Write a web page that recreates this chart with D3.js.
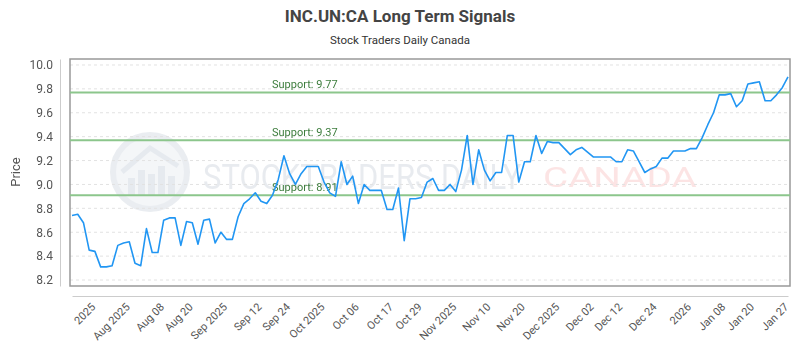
<!DOCTYPE html>
<html>
<head>
<meta charset="utf-8">
<script src="https://cdn.jsdelivr.net/npm/d3@7"></script>
<style>
  body { margin: 0; background: #fff; }
  text { font-family: Roboto, "Noto Sans", sans-serif; }
</style>
</head>
<body>
<div id="chart"></div>
<script>
// daily closes
var prices = [8.74,8.75,8.68,8.45,8.44,8.31,8.31,8.32,8.49,8.51,8.52,8.34,8.32,8.63,8.43,8.43,8.70,8.72,8.72,8.49,
  8.69,8.68,8.50,8.70,8.71,8.51,8.60,8.54,8.54,8.73,8.84,8.88,8.93,8.86,
  8.84,8.91,9.04,9.24,9.09,9.00,9.09,9.15,9.15,9.15,9.02,8.93,8.90,9.19,9.00,9.07,8.84,9.00,8.95,8.95,
  8.95,8.79,8.79,8.97,8.53,8.88,8.88,8.89,9.02,9.05,8.95,8.95,9.00,
  8.94,9.12,9.41,9.00,9.29,9.12,9.03,9.10,9.10,9.41,9.41,9.02,9.19,9.19,9.41,9.26,9.36,9.35,9.35,9.30,
  9.25,9.29,9.31,9.27,9.23,9.23,9.23,9.23,9.19,9.19,9.29,9.28,9.19,
  9.10,9.13,9.15,9.22,9.22,9.28,9.28,9.28,9.30,9.30,9.39,9.50,9.60,9.75,9.75,9.76,9.65,9.70,9.84,9.85,
  9.86,9.70,9.70,9.75,9.81,9.90];

// x tick labels and the point index each one sits on
var tickLabels = ['2025','Aug 2025','Aug 08','Aug 20','Sep 2025','Sep 12','Sep 24','Oct 2025','Oct 06','Oct 17','Oct 29',
  'Nov 2025','Nov 10','Nov 20','Dec 2025','Dec 02','Dec 12','Dec 24','2026','Jan 08','Jan 20','Jan 27'];
var tickIdx = [4,10,16,21,27,33,38,44,50,56,61,67,73,79,85,91,96,102,108,114,119,125];

var yTicks = [8.2,8.4,8.6,8.8,9.0,9.2,9.4,9.6,9.8,10.0];
var supportLevels = [9.77, 9.37, 8.91];

var width = 800, height = 350;
var plot = {left: 70, right: 790, top: 59, bottom: 286};

var svg = d3.select('#chart')
  .append('svg')
  .attr('width', width)
  .attr('height', height);

var x = d3.scaleLinear().domain([0, prices.length - 1]).range([72, 788]);
var y = d3.scaleLinear().domain([8.15, 10.05]).range([plot.bottom, plot.top]);

// titles
svg.append('text')
  .attr('x', 400).attr('y', 22)
  .attr('text-anchor', 'middle')
  .style('font-size', '17px').style('font-weight', 'bold').style('fill', '#444')
  .text('INC.UN:CA Long Term Signals');
svg.append('text')
  .attr('x', 400).attr('y', 44)
  .attr('text-anchor', 'middle')
  .style('font-size', '11.5px').style('fill', '#333')
  .text('Stock Traders Daily Canada');

// watermark
var wm = svg.append('g').style('opacity', 0.65);
wm.append('circle').attr('cx', 150).attr('cy', 172).attr('r', 37)
  .attr('fill', '#eef1f5').attr('stroke', '#dfe4ea').attr('stroke-width', 6);
[[128, 18], [138, 26], [148, 22], [158, 30], [168, 20]].forEach(function(b) {
  wm.append('rect').attr('x', b[0]).attr('y', 196 - b[1]).attr('width', 7).attr('height', b[1])
    .attr('fill', '#d9dfe7');
});
wm.append('path').attr('d', 'M122,172 L150,148 L178,166')
  .attr('fill', 'none').attr('stroke', '#d9dfe7').attr('stroke-width', 5);
wm.append('text')
  .attr('transform', 'translate(203,189) scale(0.86,1)')
  .style('font-size', '36px').style('fill', '#dce0e7')
  .text('STOCKTRADERS DAILY');
wm.append('text')
  .attr('transform', 'translate(543,187) scale(1.38,1)')
  .style('font-size', '28px').style('fill', '#fbd6d6')
  .text('CANADA');

// grid
svg.append('g').selectAll('line')
  .data(yTicks)
  .enter().append('line')
  .attr('x1', plot.left).attr('x2', plot.right)
  .attr('y1', function(d) { return y(d); })
  .attr('y2', function(d) { return y(d); })
  .attr('stroke', '#e2e2e2')
  .attr('stroke-dasharray', '3,3');

// plot frame
svg.append('rect')
  .attr('x', plot.left).attr('y', plot.top)
  .attr('width', plot.right - plot.left).attr('height', plot.bottom - plot.top)
  .attr('fill', 'none').attr('stroke', '#999').attr('stroke-width', 1.5);

// support lines
var sup = svg.append('g').selectAll('g').data(supportLevels).enter().append('g');
sup.append('line')
  .attr('x1', plot.left).attr('x2', plot.right)
  .attr('y1', function(d) { return y(d); })
  .attr('y2', function(d) { return y(d); })
  .attr('stroke', '#8cc68c').attr('stroke-width', 2);
sup.append('text')
  .attr('x', 272)
  .attr('y', function(d) { return y(d) - 4; })
  .style('font-size', '11px').style('fill', '#3d7d3d')
  .text(function(d) { return 'Support: ' + d.toFixed(2); });

// price line
var line = d3.line()
  .x(function(d, i) { return x(i); })
  .y(function(d) { return y(d); });
svg.append('path')
  .datum(prices)
  .attr('d', line)
  .attr('fill', 'none')
  .attr('stroke', '#2196f3')
  .attr('stroke-width', 1.6)
  .attr('stroke-linejoin', 'round');

// y axis
var axisY = d3.axisLeft(y).tickValues(yTicks).tickFormat(d3.format('.1f')).tickSize(0).tickPadding(7);
var axisYG = svg.append('g')
  .attr('transform', 'translate(60,0)')
  .call(axisY);
axisYG.select('.domain').attr('stroke', '#ccc');
axisYG.selectAll('text').style('font-size', '12px').style('fill', '#555');

svg.append('text')
  .attr('transform', 'translate(20,172) rotate(-90)')
  .attr('text-anchor', 'middle')
  .style('font-size', '13px').style('fill', '#555')
  .text('Price');

// x axis
var axisX = d3.axisBottom(x)
  .tickValues(tickIdx)
  .tickFormat(function(d, i) { return tickLabels[i]; })
  .tickSize(0);
var axisXG = svg.append('g')
  .attr('transform', 'translate(0,296)')
  .call(axisX);
axisXG.select('.domain').attr('stroke', '#ccc');
axisXG.selectAll('text')
  .attr('x', 0).attr('y', 0).attr('dy', '0.35em')
  .attr('transform', 'translate(-2,9) rotate(-45)')
  .style('text-anchor', 'end')
  .style('font-size', '11px').style('fill', '#555');
</script>
</body>
</html>
